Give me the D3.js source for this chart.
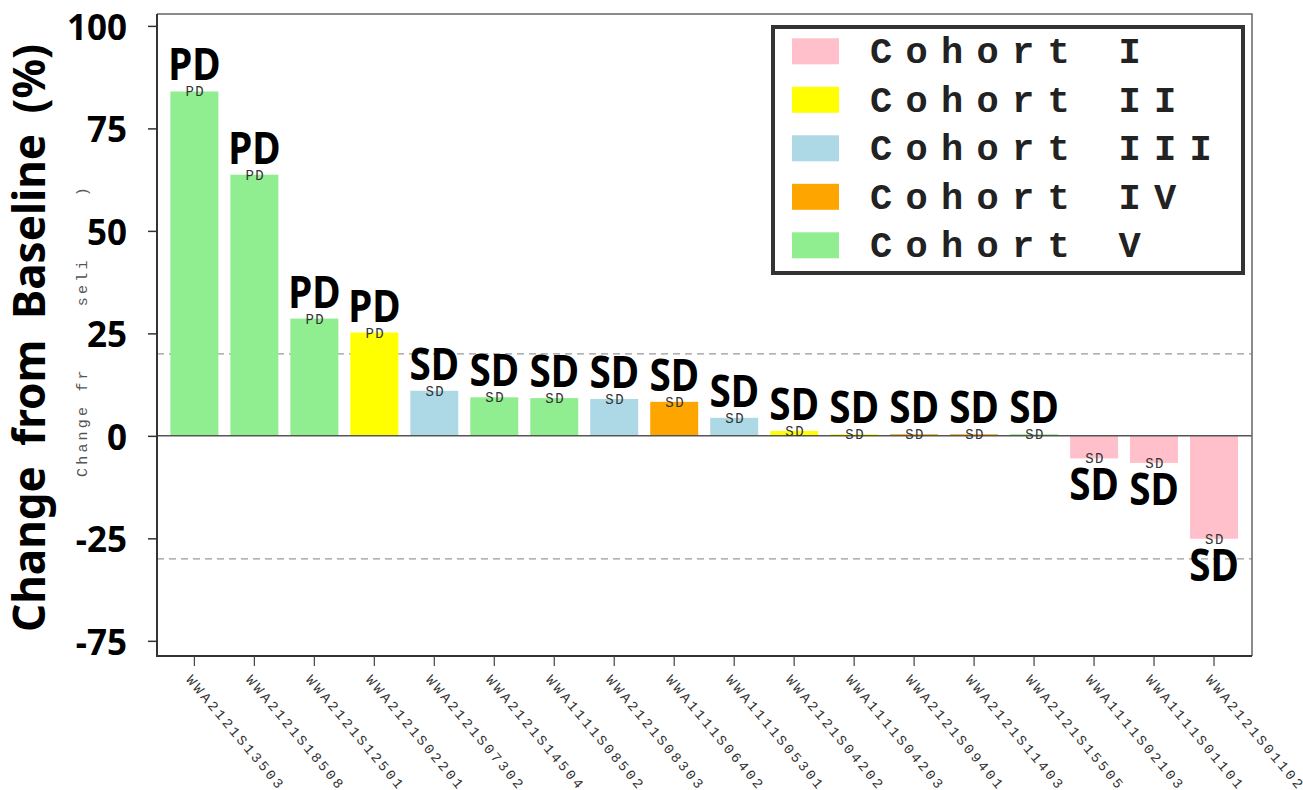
<!DOCTYPE html>
<html>
<head>
<meta charset="utf-8">
<script src="https://cdn.jsdelivr.net/npm/d3@7"></script>
<style>
  body { margin: 0; background: #fff; }
</style>
</head>
<body>
<script>
// patients, in waterfall order
var patients = ["WWA2121S13503", "WWA2121S18508", "WWA2121S12501", "WWA2121S02201",
    "WWA2121S07302", "WWA2121S14504", "WWA1111S08502", "WWA2121S08303",
    "WWA1111S06402", "WWA1111S05301", "WWA2121S04202", "WWA1111S04203",
    "WWA2121S09401", "WWA2121S11403", "WWA2121S15505", "WWA1111S02103",
    "WWA1111S01101", "WWA2121S01102"];

// best % change from baseline
var changes = [84, 63.7, 28.6, 25.2, 11.0, 9.4, 9.2, 9.0, 8.3, 4.4, 1.2,
    0.4, 0.4, 0.4, 0.4, -5.5, -6.6, -25.1];

var patientCohort = ["V", "V", "V", "II", "III", "V", "V", "III", "IV", "III", "II",
    "II", "IV", "IV", "V", "I", "I", "I"];

var responses = ["PD", "PD", "PD", "PD", "SD", "SD", "SD", "SD", "SD", "SD", "SD",
    "SD", "SD", "SD", "SD", "SD", "SD", "SD"];

var cohortNames = ["I", "II", "III", "IV", "V"];
var cohortColors = ["#ffc0cb", "#ffff00", "#add8e6", "#ffa500", "#90ee90"];

// tick positions and the labels printed on them (last label reads -75 in the original)
var yTickValues = [100, 75, 50, 25, 0, -25, -50];
var yTickLabels = ["100", "75", "50", "25", "0", "-25", "-75"];

// reference lines at +20% and -30%
var refLines = [20, -30];

var width = 1303, height = 790;
var plotL = 157, plotR = 1252, plotT = 14, plotB = 656;

var svg = d3.select("body").append("svg")
    .attr("width", width)
    .attr("height", height);

var x = d3.scaleBand()
    .domain(patients)
    .range([164.4, 1244])
    .paddingInner(0.2)
    .paddingOuter(0.1);

var y = d3.scaleLinear()
    .domain([-53.7, 102.9])
    .range([plotB, plotT]);

var color = d3.scaleOrdinal().domain(cohortNames).range(cohortColors);

var rows = patients.map(function(p, i){
    return {id: p, v: changes[i], c: patientCohort[i], r: responses[i]};
});

// dashed reference lines
svg.selectAll(".ref")
    .data(refLines)
    .enter()
    .append("line")
    .attr("class", "ref")
    .attr("x1", plotL).attr("x2", plotR)
    .attr("y1", function(d){ return y(d); })
    .attr("y2", function(d){ return y(d); })
    .attr("stroke", "#9a9a9a")
    .attr("stroke-width", 1.2)
    .attr("stroke-dasharray", "7,5");

// bars
svg.selectAll(".bar")
    .data(rows)
    .enter()
    .append("rect")
    .attr("class", "bar")
    .attr("x", function(d){ return x(d.id); })
    .attr("width", x.bandwidth())
    .attr("y", function(d){ return y(Math.max(0, d.v)); })
    .attr("height", function(d){ return Math.abs(y(d.v) - y(0)); })
    .attr("fill", function(d){ return color(d.c); });

// zero line
svg.append("line")
    .attr("x1", plotL).attr("x2", plotR)
    .attr("y1", y(0)).attr("y2", y(0))
    .attr("stroke", "#555")
    .attr("stroke-width", 1.5);

// small monospace labels sitting on the bar ends
svg.selectAll(".small")
    .data(rows)
    .enter()
    .append("text")
    .attr("class", "small")
    .attr("x", function(d){ return x(d.id) + x.bandwidth() / 2 + 1; })
    .attr("y", function(d){ return y(d.v) + 5; })
    .attr("text-anchor", "middle")
    .style("font-family", "'Liberation Mono', monospace")
    .style("font-size", "14px")
    .style("letter-spacing", "1.5px")
    .attr("fill", "#333")
    .text(function(d){ return d.r; });

// big response labels (narrowed a bit like the original face)
svg.selectAll(".big")
    .data(rows)
    .enter()
    .append("text")
    .attr("class", "big")
    .attr("transform", function(d){
        var ty = d.v >= 0 ? y(d.v) - 11 : y(d.v) + 42;
        return "translate(" + (x(d.id) + x.bandwidth() / 2) + "," + ty + ") scale(0.86,1)";
    })
    .attr("text-anchor", "middle")
    .style("font-family", "'Noto Sans', sans-serif")
    .style("font-weight", "bold")
    .style("font-size", "45px")
    .attr("fill", "#000")
    .text(function(d){ return d.r; });

// frame
svg.append("path")
    .attr("d", "M" + plotL + "," + plotT + "H" + plotR + "V" + plotB)
    .attr("fill", "none")
    .attr("stroke", "#666")
    .attr("stroke-width", 1.5);
svg.append("path")
    .attr("d", "M" + plotL + "," + plotT + "V" + plotB + "H" + plotR)
    .attr("fill", "none")
    .attr("stroke", "#333")
    .attr("stroke-width", 2);

// y axis
var yAxis = svg.append("g")
    .attr("transform", "translate(" + plotL + ",0)")
    .call(d3.axisLeft(y)
        .tickValues(yTickValues)
        .tickFormat(function(d, i){ return yTickLabels[i]; })
        .tickSize(9)
        .tickPadding(21));
yAxis.select(".domain").remove();
yAxis.selectAll("line").attr("stroke", "#333").attr("stroke-width", 1.5);
yAxis.selectAll("text")
    .attr("dy", "0.38em")
    .style("font-family", "'Noto Sans', sans-serif")
    .style("font-weight", "bold")
    .style("font-size", "35px")
    .attr("fill", "#000");

// x axis
var xAxis = svg.append("g")
    .attr("transform", "translate(0," + plotB + ")")
    .call(d3.axisBottom(x).tickSize(10));
xAxis.select(".domain").remove();
xAxis.selectAll("line").attr("stroke", "#444").attr("stroke-width", 1.2);
xAxis.selectAll("text")
    .attr("x", 0).attr("y", 0).attr("dy", 0)
    .attr("transform", "translate(-9,24) rotate(50)")
    .style("text-anchor", "start")
    .style("font-family", "'Liberation Mono', monospace")
    .style("font-size", "14px")
    .style("letter-spacing", "2.8px")
    .attr("fill", "#333");

// leftover small axis title, mostly covered in the original
var ghost = svg.append("text")
    .attr("transform", "translate(87,477) rotate(-90)")
    .style("font-family", "'Liberation Mono', monospace")
    .style("font-size", "15px")
    .style("letter-spacing", "3.2px")
    .attr("fill", "#555");
[["Change fr", 1], ["om Ba", 0], ["seli", 1], ["ne (%", 0], [")", 1]].forEach(function(p){
    ghost.append("tspan").attr("fill-opacity", p[1]).text(p[0]);
});

// main y title
svg.append("text")
    .attr("transform", "translate(45,338) rotate(-90)")
    .attr("text-anchor", "middle")
    .style("font-family", "'Noto Sans', sans-serif")
    .style("font-weight", "bold")
    .style("font-size", "44px")
    .style("word-spacing", "9px")
    .attr("fill", "#000")
    .text("Change from Baseline (%)");

// legend
var legend = svg.append("g");
legend.append("rect")
    .attr("x", 773).attr("y", 27)
    .attr("width", 470).attr("height", 246)
    .attr("fill", "#fff")
    .attr("stroke", "#333")
    .attr("stroke-width", 4);

var items = legend.selectAll(".item")
    .data(cohortNames)
    .enter()
    .append("g")
    .attr("class", "item")
    .attr("transform", function(d, i){ return "translate(0," + (38.3 + i * 48.5) + ")"; });
items.append("rect")
    .attr("x", 792).attr("y", 0)
    .attr("width", 47).attr("height", 26)
    .attr("fill", function(d){ return color(d); });
items.append("text")
    .attr("x", 870).attr("y", 25)
    .style("font-family", "'Liberation Mono', monospace")
    .style("font-weight", "bold")
    .style("font-size", "37px")
    .style("letter-spacing", "13.3px")
    .attr("fill", "#222")
    .text(function(d){ return "Cohort " + d; });
</script>
</body>
</html>
